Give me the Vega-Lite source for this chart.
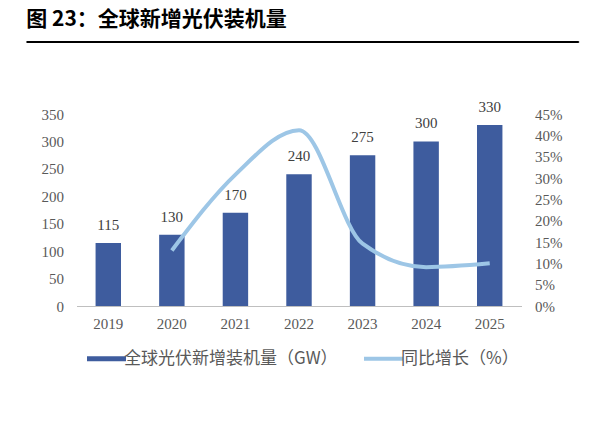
{
  "$schema": "https://vega.github.io/schema/vega-lite/v6.json",
  "background": "white",
  "padding": {"left": 25, "top": 8, "right": -15, "bottom": 0},
  "center": true,
  "spacing": 54,
  "config": {
    "view": {"stroke": null},
    "font": "Liberation Serif",
    "axis": {"labelFont": "Liberation Serif", "labelFontSize": 15, "labelColor": "#595959", "ticks": false, "grid": false, "title": null}
  },
  "vconcat": [
    {
      "width": 552,
      "height": 1,
      "data": {"values": [{"k": 0}]},
      "mark": {"type": "point", "opacity": 0},
      "encoding": {
        "y": {"field": "k", "type": "quantitative", "axis": {"orient": "right", "labels": false, "domain": false, "ticks": false, "grid": false, "minExtent": 38, "maxExtent": 38}}
      },
      "view": {"stroke": "#000000", "strokeWidth": 1},
      "title": {"text": "图 23：全球新增光伏装机量", "anchor": "start", "font": "Noto Sans CJK SC", "fontSize": 21, "fontWeight": "bold", "color": "#000000", "offset": 9, "dx": 0}
    },
    {
      "width": 445,
      "height": 192,
      "data": {"values": [
        {"year": "2019", "gw": 115, "yoy": null},
        {"year": "2020", "gw": 130, "yoy": 0.130},
        {"year": "2021", "gw": 170, "yoy": 0.308},
        {"year": "2022", "gw": 240, "yoy": 0.412},
        {"year": "2023", "gw": 275, "yoy": 0.146},
        {"year": "2024", "gw": 300, "yoy": 0.091},
        {"year": "2025", "gw": 330, "yoy": 0.100}
      ]},
      "encoding": {
        "x": {"field": "year", "type": "ordinal", "scale": {"paddingInner": 0.6, "paddingOuter": 0.3},
          "axis": {"labelAngle": 0, "domainColor": "#bfbfbf", "domainWidth": 1, "labelPadding": 10}}
      },
      "layer": [
        {
          "encoding": {
            "y": {"field": "gw", "type": "quantitative", "scale": {"domain": [0, 350]},
              "axis": {"values": [0, 50, 100, 150, 200, 250, 300, 350], "domain": false, "labelPadding": 13, "minExtent": 50, "maxExtent": 50}}
          },
          "layer": [
            {
              "mark": {"type": "bar"},
              "encoding": {
                "color": {"datum": "全球光伏新增装机量（GW）", "type": "nominal",
                  "scale": {"domain": ["全球光伏新增装机量（GW）", "同比增长（%）"], "range": ["#3E5C9E", "#9DC6E6"]},
                  "legend": {
                    "orient": "none", "legendX": 72, "legendY": 309, "direction": "horizontal", "title": null,
                    "labelFont": "Noto Sans CJK SC", "labelFontSize": 17, "labelColor": "#595959", "labelLimit": 400,
                    "symbolSize": 1521, "columnPadding": 18, "labelOffset": 9,
                    "encode": {"symbols": {"update": {
                      "shape": {"signal": "datum.value === '同比增长（%）' ? 'stroke' : 'M-1,-0.13L1,-0.13L1,0.13L-1,0.13Z'"},
                      "strokeWidth": {"signal": "datum.value === '同比增长（%）' ? 4 : 0"},
                      "fill": {"signal": "datum.value === '同比增长（%）' ? 'transparent' : '#3E5C9E'"},
                      "stroke": {"signal": "datum.value === '同比增长（%）' ? '#9DC6E6' : 'transparent'"},
                      "opacity": {"value": 1}
                    }}}
                  }}
              }
            },
            {
              "mark": {"type": "text", "baseline": "alphabetic", "dy": -13, "font": "Liberation Serif", "fontSize": 15, "color": "#404040"},
              "encoding": {"text": {"field": "gw", "type": "quantitative"}}
            }
          ]
        },
        {
          "transform": [{"filter": "datum.yoy != null"}],
          "mark": {"type": "line", "interpolate": "monotone", "strokeWidth": 4},
          "encoding": {
            "y": {"field": "yoy", "type": "quantitative", "scale": {"domain": [0, 0.45]},
              "axis": {"orient": "right", "format": ".0%", "values": [0, 0.05, 0.1, 0.15, 0.2, 0.25, 0.3, 0.35, 0.4, 0.45], "domain": false, "labelPadding": 13, "minExtent": 45, "maxExtent": 45}},
            "color": {"datum": "同比增长（%）", "type": "nominal"}
          }
        }
      ],
      "resolve": {"scale": {"y": "independent"}}
    }
  ]
}
